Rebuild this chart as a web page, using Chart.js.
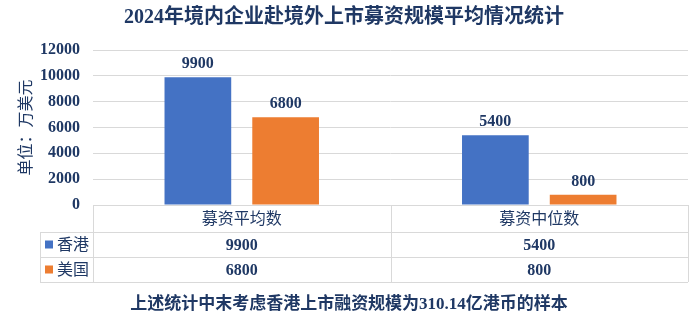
<!DOCTYPE html>
<html><head><meta charset="utf-8">
<script src="https://cdn.jsdelivr.net/npm/chart.js@4/dist/chart.umd.min.js"></script>
<style>html,body{margin:0;padding:0;background:#fff}#wrap{width:700px;height:319px;position:relative}</style>
</head><body><div id="wrap"><canvas id="c"></canvas></div>
<script>
const categories = ['募资平均数', '募资中位数'];
const seriesNames = ['香港', '美国'];
const hkValues = [9900, 5400];
const usValues = [6800, 800];
const yTicks = [0, 2000, 4000, 6000, 8000, 10000, 12000];
const titleText = '2024年境内企业赴境外上市募资规模平均情况统计';
const yTitle = '单位：万美元';
const footnote = '上述统计中末考虑香港上市融资规模为310.14亿港币的样本';

const NAVY = '#1F3864';
const FAM = "'Liberation Serif', 'Noto Sans CJK SC', serif";
const colors = ['#4472C4', '#ED7D31'];
const GRID = '#D9D9D9';

const tablePlugin = {
  id: 'tablePlugin',
  afterDatasetsDraw(chart) {
    const ctx = chart.ctx;
    ctx.save();
    ctx.fillStyle = NAVY;
    ctx.font = 'bold 16px ' + FAM;
    ctx.textAlign = 'center';
    ctx.textBaseline = 'bottom';
    chart.data.datasets.forEach((ds, i) => {
      const meta = chart.getDatasetMeta(i);
      meta.data.forEach((bar, j) => {
        ctx.fillText(String(ds.data[j]), bar.x, bar.y - 5);
      });
    });
    ctx.restore();
  },
  afterDraw(chart) {
    const ctx = chart.ctx;
    const a = chart.chartArea;
    const xs = chart.scales.x;
    const n = categories.length;
    const bounds = [];
    const w = (a.right - a.left) / n;
    for (let i = 0; i <= n; i++) bounds.push(a.left + w * i);
    const legL = 40;
    const rows = [a.bottom, a.bottom + 27, a.bottom + 52, a.bottom + 77];
    ctx.save();
    ctx.strokeStyle = GRID;
    ctx.lineWidth = 1;
    const hl = (x1, x2, y) => { ctx.beginPath(); ctx.moveTo(x1, Math.round(y) + 0.5); ctx.lineTo(x2, Math.round(y) + 0.5); ctx.stroke(); };
    const vl = (x, y1, y2) => { ctx.beginPath(); ctx.moveTo(Math.round(x) + 0.5, y1); ctx.lineTo(Math.round(x) + 0.5, y2); ctx.stroke(); };
    hl(a.left, a.right, rows[0]);
    hl(legL, a.right, rows[1]);
    hl(legL, a.right, rows[2]);
    hl(legL, a.right, rows[3]);
    bounds.forEach(b => vl(b, rows[0], rows[3]));
    vl(legL, rows[1], rows[3]);
    ctx.textAlign = 'center';
    ctx.textBaseline = 'middle';
    ctx.fillStyle = NAVY;
    ctx.font = '16px ' + FAM;
    categories.forEach((c, i) => {
      ctx.fillText(c, xs.getPixelForValue(i), (rows[0] + rows[1]) / 2 + 1);
    });
    const vals = [hkValues, usValues];
    ctx.font = 'bold 16px ' + FAM;
    vals.forEach((arr, r) => {
      arr.forEach((v, i) => {
        ctx.fillText(String(v), xs.getPixelForValue(i), (rows[r + 1] + rows[r + 2]) / 2 + 1);
      });
    });
    seriesNames.forEach((s, r) => {
      const cy = (rows[r + 1] + rows[r + 2]) / 2;
      ctx.fillStyle = colors[r];
      ctx.fillRect(45, cy - 4, 8, 8);
      ctx.fillStyle = NAVY;
      ctx.font = '16px ' + FAM;
      ctx.textAlign = 'left';
      ctx.fillText(s, 57, cy + 1);
    });
    ctx.textAlign = 'center';
    ctx.font = 'bold 17px ' + FAM;
    ctx.fillStyle = NAVY;
    ctx.fillText(footnote, 349, 305);
    ctx.restore();
  }
};

new Chart(document.getElementById('c'), {
  type: 'bar',
  data: {
    labels: categories,
    datasets: [
      { label: seriesNames[0], data: hkValues, backgroundColor: colors[0], barPercentage: 0.76, categoryPercentage: 0.59 },
      { label: seriesNames[1], data: usValues, backgroundColor: colors[1], barPercentage: 0.76, categoryPercentage: 0.59 }
    ]
  },
  options: {
    responsive: true,
    maintainAspectRatio: false,
    animation: false,
    devicePixelRatio: 1,
    layout: { padding: { left: 0, right: 12, top: 0, bottom: 0 } },
    plugins: {
      legend: { display: false },
      tooltip: { enabled: false },
      title: {
        display: true, text: titleText, color: NAVY,
        font: { family: FAM, size: 20, weight: 'bold' },
        padding: { top: 6, bottom: 20 }
      }
    },
    scales: {
      x: {
        grid: { display: false },
        border: { display: false },
        ticks: { display: false },
        afterFit(s) { s.height = 114; }
      },
      y: {
        min: 0, max: 12000,
        afterBuildTicks(s) { s.ticks = yTicks.map(v => ({ value: v })); },
        grid: { color: GRID, lineWidth: 1, drawTicks: false },
        border: { display: false },
        ticks: { color: NAVY, font: { family: FAM, size: 16, weight: 'bold' }, padding: 13, callback: v => String(v) },
        title: { display: true, text: yTitle, color: NAVY, font: { family: FAM, size: 16 }, padding: { top: 17, bottom: 0 } },
        afterFit(s) { s.width = 93; }
      }
    }
  },
  plugins: [tablePlugin]
});
</script></body></html>
